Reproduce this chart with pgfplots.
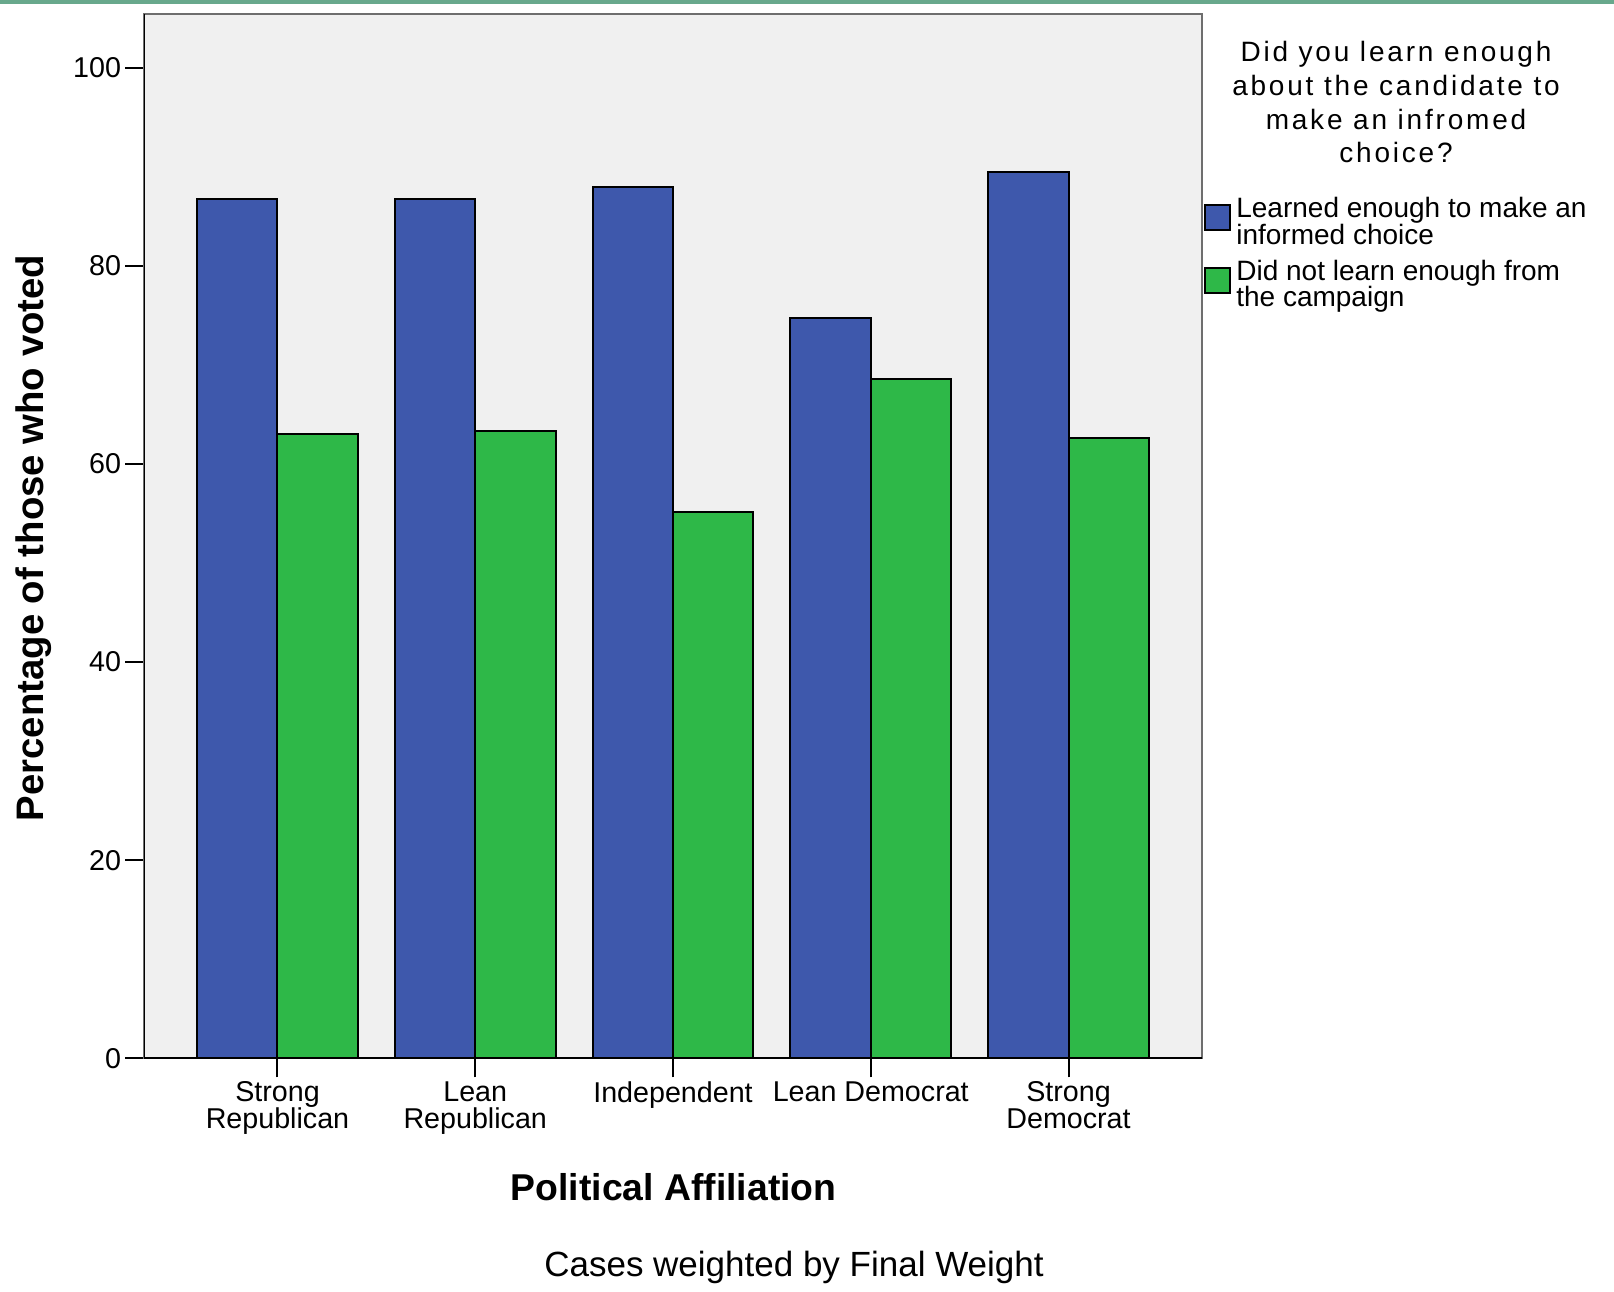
\documentclass[border=0pt]{standalone}
\usepackage{fontspec}
\setmainfont{Liberation Sans}
\newfontfamily\ttlfont[LetterSpace=10]{Liberation Sans}
\usepackage{pgfplots}
\pgfplotsset{compat=1.18}
\definecolor{spssblue}{RGB}{62,88,172}
\definecolor{spssgreen}{RGB}{46,184,72}
\definecolor{plotbg}{RGB}{240,240,240}
\definecolor{framegray}{RGB}{110,110,110}
\definecolor{topband}{RGB}{104,168,140}

\begin{document}
\begin{tikzpicture}
\begin{axis}[
  at={(0,0)}, anchor=south west,
  scale only axis, width=317.4pt, height=313.2pt,
  ybar=0pt, bar width=24.1pt,
  xmin=-0.675, xmax=4.675, ymin=0, ymax=105.4,
  xtick={0,1,2,3,4},
  xticklabels={{Strong\\Republican},{Lean\\Republican},Independent,Lean Democrat,{Strong\\Democrat}},
  ytick={0,20,...,100},
  xtick pos=bottom, ytick pos=left,
  tick align=outside, major tick length=5.7pt,
  tick style={black, line width=0.6pt},
  axis background/.style={fill=plotbg},
  axis line style={draw=framegray, line width=0.7pt},
  /pgf/number format/assume math mode=true,
  ticklabel style={font=\fontsize{8.6}{8.2}\selectfont},
  xticklabel style={align=center, inner sep=1pt},
  yticklabel style={inner sep=1pt},
  legend image code/.code={\draw[#1,draw=black,line width=0.6pt] (0pt,-6.1pt) rectangle (7.5pt,1.4pt);},
  legend style={at={(rel axis cs:1,1)}, anchor=north west, xshift=0.3pt, yshift=-54.7pt,
    draw=none, fill=none, inner sep=0pt, row sep=8.6pt, column sep=1.7pt,
    nodes={inner sep=0pt}, font=\fontsize{8.4}{8}\selectfont},
  legend cell align=left,
]
\addplot[fill=spssblue, draw=black, line width=0.6pt] coordinates {(0,86.8) (1,86.8) (2,88.0) (3,74.7) (4,89.5)};
\addplot[fill=spssgreen, draw=black, line width=0.6pt] coordinates {(0,63.0) (1,63.3) (2,55.2) (3,68.6) (4,62.6)};
\addlegendentry{\parbox[t]{130pt}{Learned enough to make an\\informed choice}}
\addlegendentry{\parbox[t]{130pt}{Did not learn enough from\\the campaign}}
\draw[black, line width=0.7pt] (rel axis cs:0,1) -- (rel axis cs:0,0) -- (rel axis cs:1,0);
\end{axis}
\node[font=\bfseries\fontsize{11.5}{12}\selectfont, rotate=90, anchor=center] at (-33pt,156.1pt) {Percentage of those who voted};
\node[font=\bfseries\fontsize{11.2}{12}\selectfont, anchor=base] at (158.9pt,-42.6pt) {Political Affiliation};
\node[font=\fontsize{10.5}{12}\selectfont, anchor=base] at (195pt,-65.4pt) {Cases weighted by Final Weight};
\begin{scope}[every node/.style={anchor=base, inner sep=0pt, font=\ttlfont\fontsize{8.4}{10}\selectfont}]
\node at (375.6pt,298.9pt) {Did you learn enough};
\node at (375.6pt,288.8pt) {about the candidate to};
\node at (375.6pt,278.7pt) {make an infromed};
\node at (375.6pt,268.6pt) {choice?};
\end{scope}
\fill[topband] (-43.2pt,317.5pt) rectangle (441pt,316.3pt);
\pgfresetboundingbox
\useasboundingbox (-43.2pt,-69.9pt) rectangle (441pt,317.5pt);
\end{tikzpicture}
\end{document}
